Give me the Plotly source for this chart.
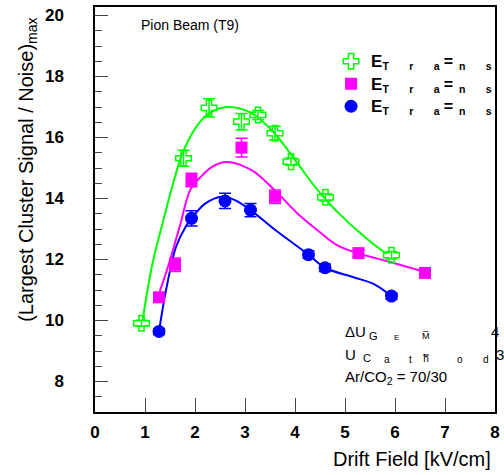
import plotly.graph_objects as go

# ---------------- data ----------------
green_x = [0.93, 1.77, 2.28, 2.93, 3.26, 3.60, 3.92, 4.61, 5.93]
green_y = [9.91, 15.32, 16.97, 16.52, 16.74, 16.14, 15.21, 14.04, 12.14]
green_e = [0.10, 0.26, 0.30, 0.27, 0.15, 0.22, 0.12, 0.12, 0.12]

mag_x = [1.28, 1.60, 1.93, 2.93, 3.60, 5.27, 6.60]
mag_y = [10.76, 11.83, 14.61, 15.67, 14.06, 12.21, 11.56]
mag_e = [0.12, 0.22, 0.22, 0.31, 0.22, 0.12, 0.12]

blue_x = [1.28, 1.93, 2.60, 3.11, 4.27, 4.60, 5.93]
blue_y = [9.64, 13.35, 13.92, 13.62, 12.16, 11.73, 10.80]
blue_e = [0.10, 0.25, 0.25, 0.22, 0.12, 0.12, 0.10]

# fitted curves
gfit_x = [0.95, 1.15, 1.35, 1.58, 1.78, 2.08, 2.34, 2.67, 3.13, 3.59, 4.05, 4.45, 4.81, 5.43, 5.83]
gfit_y = [10.0, 11.87, 13.18, 14.6, 15.6, 16.47, 16.85, 17.0, 16.8, 16.14, 15.15, 14.28, 13.62, 12.69, 12.19]

mfit_x = [1.28, 1.48, 1.71, 1.91, 2.14, 2.34, 2.63, 3.13, 3.59, 4.05, 4.45, 4.84, 5.27, 5.90, 6.60]
mfit_y = [10.88, 11.87, 13.18, 14.3, 14.75, 15.04, 15.2, 14.93, 14.28, 13.51, 12.96, 12.47, 12.2, 11.92, 11.59]

bfit_x = [1.28, 1.42, 1.62, 1.81, 1.93, 2.21, 2.54, 2.80, 3.11, 3.66, 4.26, 4.60, 5.17, 5.57, 5.93]
bfit_y = [9.64, 10.99, 12.41, 13.07, 13.35, 13.84, 14.06, 13.95, 13.62, 12.9, 12.17, 11.73, 11.42, 11.2, 10.8]

x_ticks = [0, 1, 2, 3, 4, 5, 6, 7, 8]
y_ticks = [8, 10, 12, 14, 16, 18, 20]

GREEN = "#00ff00"
MAG = "#ff00ff"
BLUE = "#0000ff"
FONT = "Liberation Sans, Arial, sans-serif"

NB = "\u00a0"
legend_text = ("<span style='font-size:17px'>E</span><sub>T" + NB * 7 + "r" + NB * 7 + "a</sub>"
               + NB + "<span style='font-size:16px'>=</span>" + "<sub>" + NB * 2 + "n" + NB * 7 + "s</sub>")

fig = go.Figure()

for fx, fy, c in [(gfit_x, gfit_y, GREEN), (mfit_x, mfit_y, MAG), (bfit_x, bfit_y, BLUE)]:
    fig.add_trace(go.Scatter(x=fx, y=fy, mode="lines", showlegend=False,
                             line=dict(color=c, width=2, shape="spline", smoothing=1.0),
                             hoverinfo="skip"))

fig.add_trace(go.Scatter(x=green_x, y=green_y, mode="markers", name=legend_text,
                         marker=dict(symbol="cross-open", size=13, color=GREEN, line=dict(width=1.5, color=GREEN)),
                         error_y=dict(type="data", array=green_e, color=GREEN, thickness=1.5, width=6)))
fig.add_trace(go.Scatter(x=mag_x, y=mag_y, mode="markers", name=legend_text,
                         marker=dict(symbol="square", size=12, color=MAG),
                         error_y=dict(type="data", array=mag_e, color=MAG, thickness=1.5, width=6)))
fig.add_trace(go.Scatter(x=blue_x, y=blue_y, mode="markers", name=legend_text,
                         marker=dict(symbol="circle", size=13, color=BLUE),
                         error_y=dict(type="data", array=blue_e, color=BLUE, thickness=1.5, width=6)))

W, H = 504, 475
ML, MR, MT, MB = 95, 4, 7, 63
PW, PH = W - ML - MR, H - MT - MB


def px(xp, yp):
    return (xp - ML) / PW, (H - MB - yp) / PH


annotations = []


def txt(s, xp, yp, size, xanchor="left", yanchor="middle", bold=False, angle=0):
    ax, ay = px(xp, yp)
    annotations.append(dict(text=s, x=ax, y=ay, xref="paper", yref="paper",
                            xanchor=xanchor, yanchor=yanchor, showarrow=False,
                            textangle=angle,
                            font=dict(family=FONT, size=size, color="black",
                                      weight="bold" if bold else "normal")))


txt("Pion Beam (T9)", 140, 25, 14)
txt("Drift Field [kV/cm]", 498, 459, 20, xanchor="right")
txt("(Largest Cluster Signal / Noise)<sub>max</sub>", 26, 170, 20, xanchor="center", angle=-90)

# bottom-right info block
txt("\u0394U", 346, 331, 15)
txt("G", 370, 336, 11)
txt("E", 396, 337, 8)
txt("M\u0305", 424, 336, 9)
txt("4", 494, 331, 15)
txt("U", 346, 354, 15)
txt("C", 364, 358, 11)
txt("a", 386, 359, 10)
txt("t", 411, 359, 10)
txt("h\u033f", 425, 358, 10)
txt("o", 459, 359, 10)
txt("d", 486, 359, 10)
txt("3", 499, 354, 15)
txt("Ar/CO<sub>2</sub> = 70/30", 346, 377, 15)

fig.update_layout(
    width=W, height=H,
    margin=dict(l=ML, r=MR, t=MT, b=MB, pad=0),
    paper_bgcolor="white", plot_bgcolor="white",
    font=dict(family=FONT, color="black"),
    annotations=annotations,
    legend=dict(x=(334 - ML) / PW, y=px(0, 45)[1], xanchor="left", yanchor="top",
                bgcolor="rgba(0,0,0,0)", font=dict(family=FONT, size=15, weight="bold"),
                itemclick=False, tracegroupgap=0),
    xaxis=dict(range=[0, 8], tickvals=x_ticks, ticks="inside", ticklen=14, tickwidth=1,
               showline=True, linewidth=1.5, linecolor="black", mirror=True, showgrid=False,
               zeroline=False, ticklabelstandoff=4,
               tickfont=dict(family=FONT, size=17, weight="bold")),
    yaxis=dict(range=[7, 20.28], tickvals=y_ticks, ticks="inside", ticklen=13, tickwidth=1,
               showline=True, linewidth=1.5, linecolor="black", mirror=True, showgrid=False,
               zeroline=False, ticklabelstandoff=26,
               minor=dict(dtick=0.5, tick0=7, ticks="inside", ticklen=7, tickwidth=1),
               tickfont=dict(family=FONT, size=17, weight="bold")),
)

fig.write_html("out.html")
